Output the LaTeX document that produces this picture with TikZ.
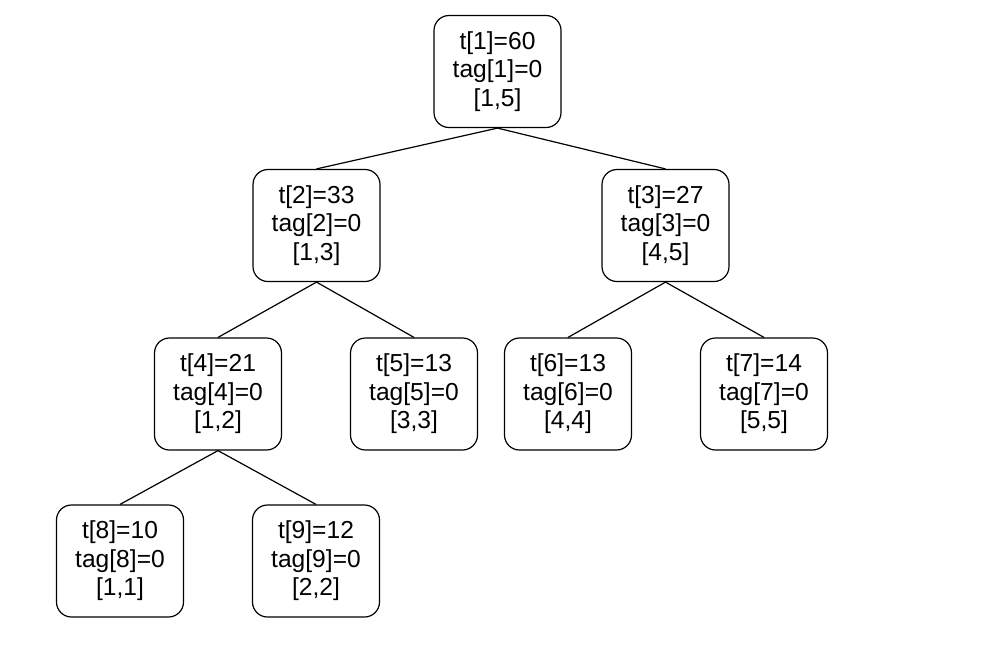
\documentclass[tikz,border=0pt]{standalone}
\usepackage{fontspec}
\setmainfont{Liberation Sans}
\usepackage{tikz}
\usetikzlibrary{positioning}

\begin{document}
\begin{tikzpicture}[x=0.5pt,y=-0.5pt,
	seg/.style={draw=black,rounded corners=7.5pt,line width=0.6pt,minimum width=63.5pt,minimum height=56pt,align=center,inner sep=0pt,font=\fontsize{12.3}{14.2}\selectfont},
	link/.style={draw=black,line width=0.6pt}]
			\useasboundingbox (0,0) rectangle (1000,650);
			\node [seg] (t1) at (497.5,71.5) {t[1]=60\\tag[1]=0\\{}[1,5]};
			\node [seg] (t2) at (316.5,225.5) {t[2]=33\\tag[2]=0\\{}[1,3]};
			\node [seg] (t3) at (665.5,225.5) {t[3]=27\\tag[3]=0\\{}[4,5]};
			\node [seg] (t4) at (218,394) {t[4]=21\\tag[4]=0\\{}[1,2]};
			\node [seg] (t5) at (414,394) {t[5]=13\\tag[5]=0\\{}[3,3]};
			\node [seg] (t6) at (568,394) {t[6]=13\\tag[6]=0\\{}[4,4]};
			\node [seg] (t7) at (764,394) {t[7]=14\\tag[7]=0\\{}[5,5]};
			\node [seg] (t8) at (120,561) {t[8]=10\\tag[8]=0\\{}[1,1]};
			\node [seg] (t9) at (316,561) {t[9]=12\\tag[9]=0\\{}[2,2]};
			\draw [link] (t1.south) -- (t2.north);
			\draw [link] (t1.south) -- (t3.north);
			\draw [link] (t2.south) -- (t4.north);
			\draw [link] (t2.south) -- (t5.north);
			\draw [link] (t3.south) -- (t6.north);
			\draw [link] (t3.south) -- (t7.north);
			\draw [link] (t4.south) -- (t8.north);
			\draw [link] (t4.south) -- (t9.north);
\end{tikzpicture}
\end{document}
